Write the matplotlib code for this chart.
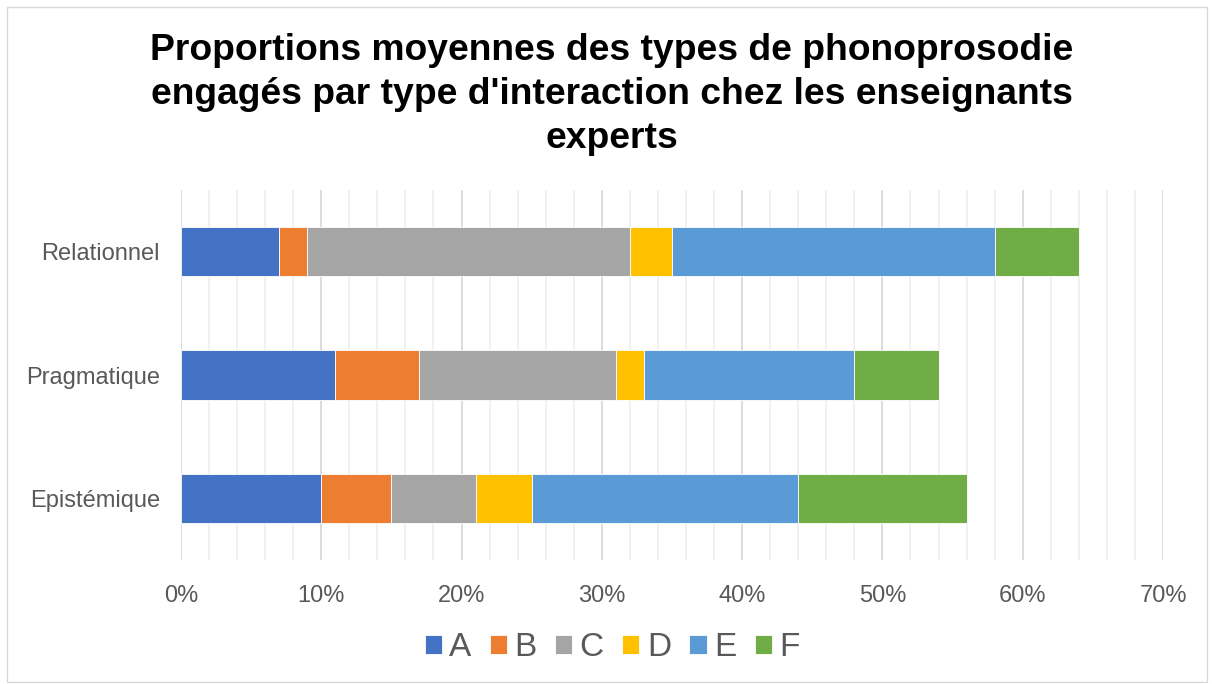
import matplotlib.pyplot as plt
import matplotlib.patches as patches
import numpy as np
from matplotlib.ticker import MultipleLocator, PercentFormatter

# categories (bottom to top) and series values in %
categories = ['Epistémique', 'Pragmatique', 'Relationnel']
series = ['A', 'B', 'C', 'D', 'E', 'F']
A = [10, 11, 7]
B = [5, 6, 2]
C = [6, 14, 23]
D = [4, 2, 3]
E = [19, 15, 23]
F = [12, 6, 6]
values = [A, B, C, D, E, F]
colors = ['#4472C4', '#ED7D31', '#A5A5A5', '#FFC000', '#5B9BD5', '#70AD47']

plt.rcParams['font.family'] = ['Liberation Sans', 'DejaVu Sans']

fig = plt.figure(figsize=(12.12, 6.84), dpi=100)
ax = fig.add_axes([0.1493, 0.1813, 0.8103, 0.5409])

y = np.arange(len(categories))
left = np.zeros(len(categories))
for name, vals, col in zip(series, values, colors):
    ax.barh(y, vals, left=left, height=0.4, color=col, label=name,
            edgecolor='white', linewidth=0.6, zorder=3)
    left += np.array(vals)

ax.set_xlim(0, 70)
ax.set_ylim(-0.5, 2.5)
ax.xaxis.set_major_locator(MultipleLocator(10))
ax.xaxis.set_minor_locator(MultipleLocator(2))
ax.xaxis.set_major_formatter(PercentFormatter(decimals=0))
ax.grid(axis='x', which='major', color='#d9d9d9', linewidth=1.3, zorder=0)
ax.grid(axis='x', which='minor', color='#f0f0f0', linewidth=1.3, zorder=0)
ax.set_yticks(y)
ax.set_yticklabels(categories)
ax.tick_params(axis='both', which='both', length=0, labelsize=17, labelcolor='#595959')
ax.tick_params(axis='x', pad=18)
ax.tick_params(axis='y', pad=15)
for s in ax.spines.values():
    s.set_visible(False)

fig.text(0.505, 0.952,
         "Proportions moyennes des types de phonoprosodie\n"
         "engagés par type d'interaction chez les enseignants\nexperts",
         ha='center', va='top', fontsize=26.8, fontweight='bold', linespacing=1.34)

leg = fig.legend(loc='center', bbox_to_anchor=(0.505, 0.053), ncol=6, frameon=False,
                 fontsize=24, handlelength=0.52, handleheight=0.52, handletextpad=0.22,
                 columnspacing=0.55, labelcolor='#595959')

fig.patches.append(patches.Rectangle((0.006, 0.003), 0.99, 0.987, transform=fig.transFigure,
                                     fill=False, edgecolor='#d9d9d9', linewidth=1))

fig.savefig('out.png', dpi=100)
